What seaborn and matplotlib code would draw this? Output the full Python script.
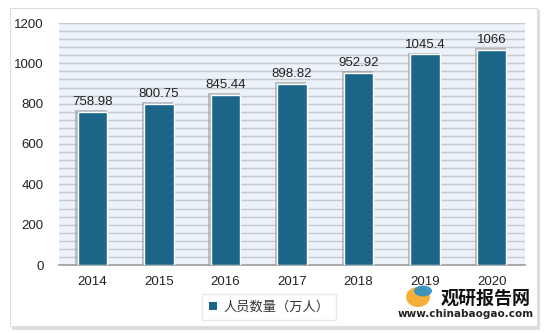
import matplotlib
matplotlib.use("Agg")
import matplotlib.pyplot as plt
import seaborn as sns
import pandas as pd
from matplotlib.patches import Rectangle, Ellipse

years = ["2014", "2015", "2016", "2017", "2018", "2019", "2020"]
values = [758.98, 800.75, 845.44, 898.82, 952.92, 1045.4, 1066]
labels = ["758.98", "800.75", "845.44", "898.82", "952.92", "1045.4", "1066"]
series_name = "人员数量（万人）"

sns.set_theme(style="white")
plt.rcParams['font.family'] = ['Noto Sans CJK SC', 'DejaVu Sans']
NUMFONT = "Liberation Sans"

df = pd.DataFrame({"year": years, "value": values})

fig = plt.figure(figsize=(5.48, 3.33), dpi=100)
fig.patch.set_facecolor("white")

# outer frame with shadow
fig.patches.append(Rectangle((12/548, 1 - 330/333), 528/548, 320/333, transform=fig.transFigure,
                             facecolor="#d0d0d0", edgecolor="none", zorder=-3, alpha=0.7))
fig.patches.append(Rectangle((10/548, 1 - 326/333), 527/548, 318/333, transform=fig.transFigure,
                             facecolor="white", edgecolor="#dddddd", lw=0.8, zorder=-2))

ax = fig.add_axes([59/548, 1 - 265/333, 466/548, 242/333])
ax.set_facecolor("#ECF2F9")

sns.barplot(data=df, x="year", y="value", color="#1B6688", width=0.44,
            edgecolor="white", linewidth=1.0, saturation=1, ax=ax, zorder=3)

# shadows behind bars
for p in list(ax.patches):
    x, w, h = p.get_x(), p.get_width(), p.get_height()
    ax.add_patch(Rectangle((x - 0.035, 0), w + 0.03, h + 8, facecolor="#9a9a9a",
                           edgecolor="none", alpha=0.6, zorder=2))

for i, (v, lab) in enumerate(zip(values, labels)):
    ax.text(i, v + 18, lab, ha="center", va="bottom", fontsize=9.5,
            color="#222222", family=NUMFONT, zorder=4)

ax.set_ylim(0, 1200)
ax.set_xlim(-0.5, 6.5)
ax.set_yticks(range(0, 1201, 200))
ax.set_yticks(range(0, 1201, 40), minor=True)
ax.yaxis.grid(True, which="both", color="#c6c9cd", lw=1.0, zorder=0)
ax.set_axisbelow(True)
ax.set_xlabel("")
ax.set_ylabel("")
for s in ["top", "right", "left"]:
    ax.spines[s].set_visible(False)
ax.spines["bottom"].set_color("#a0a0a0")
ax.tick_params(axis="both", which="both", labelsize=9.5, colors="#222222", length=0, pad=8)
for t in ax.get_xticklabels() + ax.get_yticklabels():
    t.set_family(NUMFONT)
ax.tick_params(axis="y", pad=11)

# legend
leg_handle = Rectangle((0, 0), 1, 1, facecolor="#1B6688", edgecolor="none")
leg = fig.legend([leg_handle], [series_name], loc="center", bbox_to_anchor=(269/548, 1 - 307/333),
                 frameon=True, fontsize=9.5, handlelength=0.6, handleheight=0.6,
                 handletextpad=0.5, borderpad=0.5, fancybox=False)
leg.get_frame().set_edgecolor("#e4e4e4")
leg.get_frame().set_facecolor("white")
for t in leg.get_texts():
    t.set_color("#333333")

# watermark
fig.text(486/548, 1 - 298/333, "观研报告网", ha="center", va="center", fontsize=13,
         fontweight="bold", color="#111111")
fig.text(466/548, 1 - 314/333, "www.chinabaogao.com", ha="center", va="center",
         fontsize=7.5, fontweight="bold", color="#222222", family="DejaVu Sans")
fig.patches.append(Ellipse((418/548, 1 - 297/333), 24/548, 20/333,
                           transform=fig.transFigure, facecolor="#f5a623",
                           edgecolor="none", alpha=0.9))
fig.patches.append(Ellipse((423/548, 1 - 291/333), 18/548, 11/333,
                           transform=fig.transFigure, facecolor="#2a8fc4",
                           edgecolor="none", alpha=0.9))

fig.savefig("out.png", dpi=100)
